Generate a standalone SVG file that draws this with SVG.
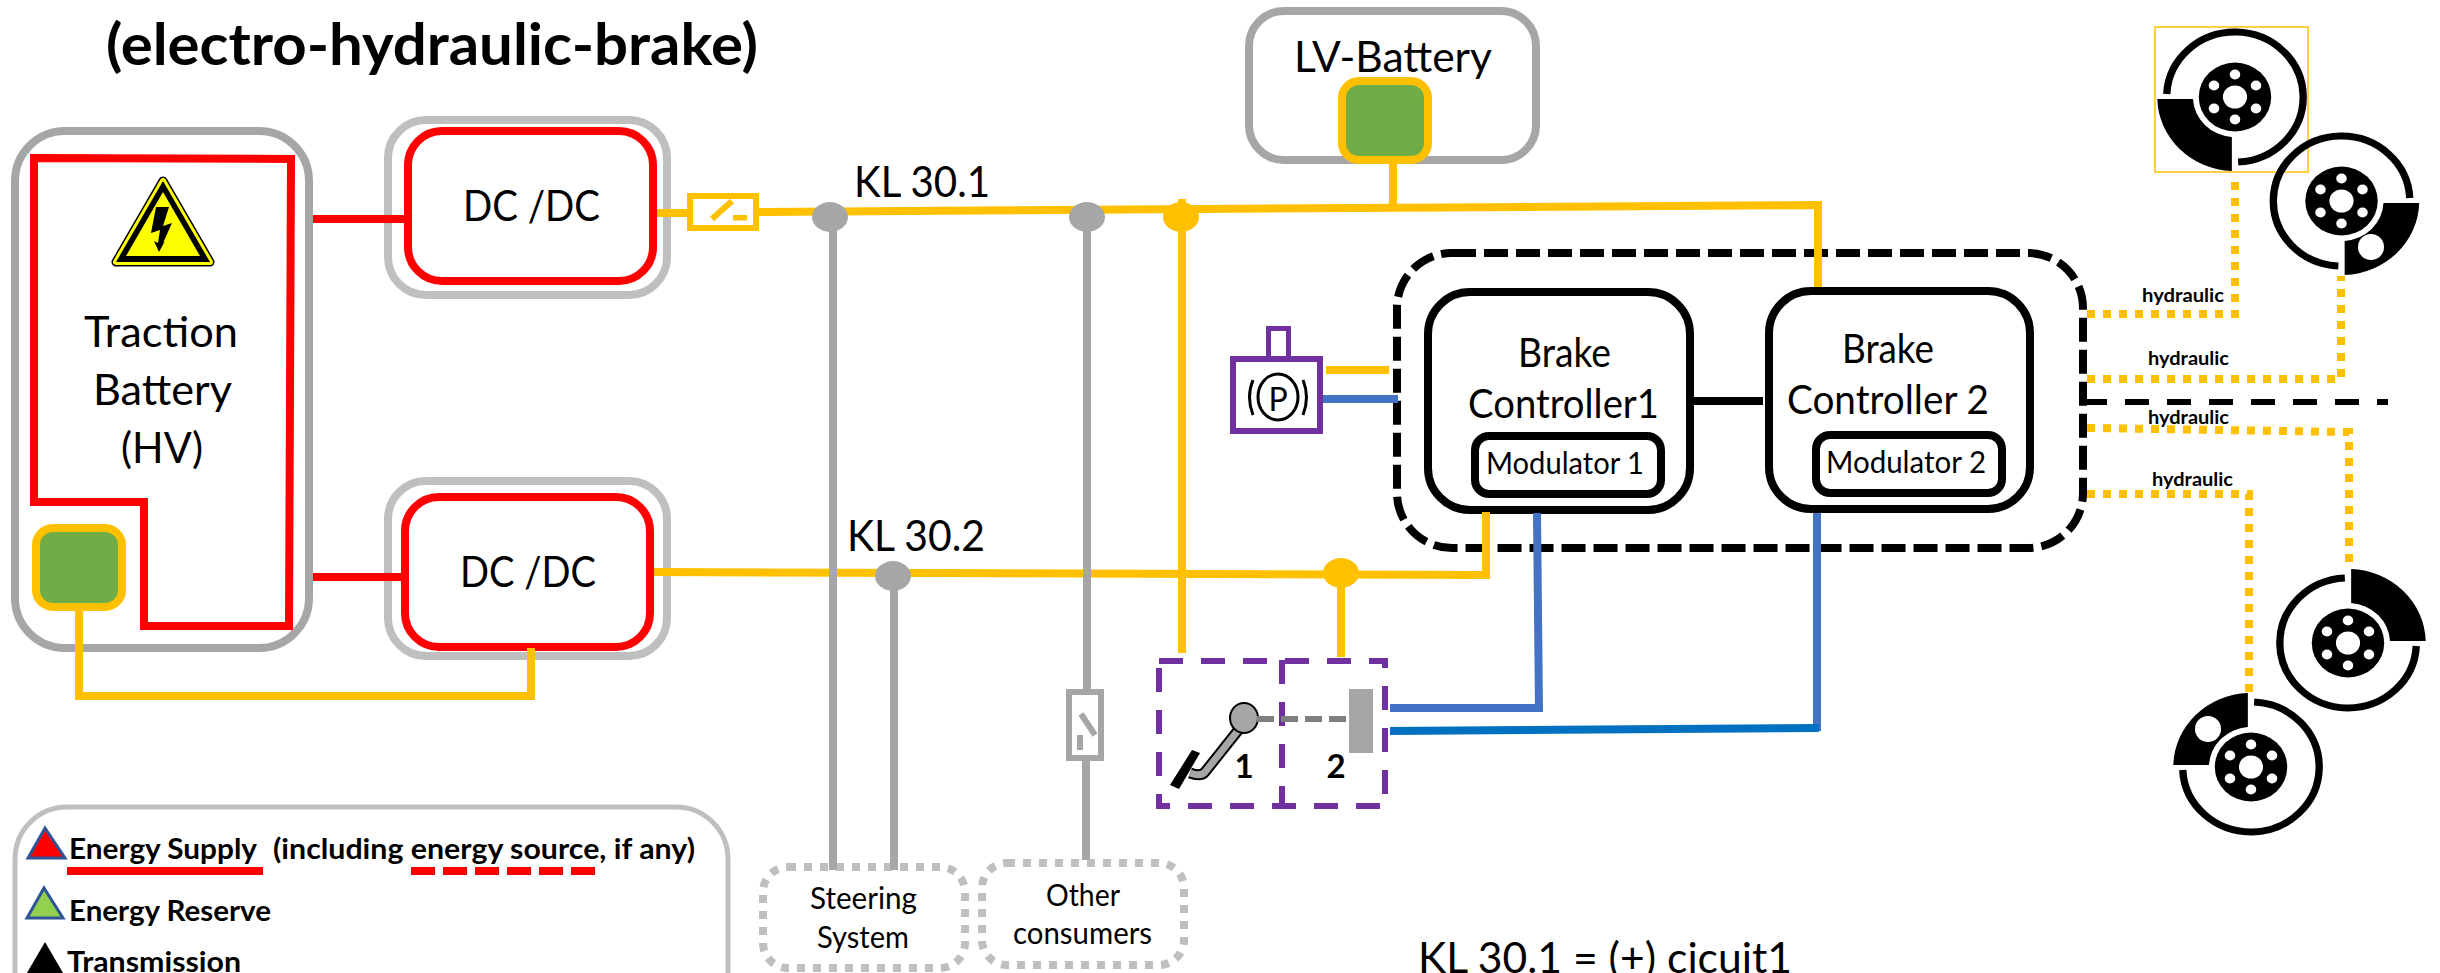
<svg xmlns="http://www.w3.org/2000/svg" xmlns:xlink="http://www.w3.org/1999/xlink" width="2440" height="973" viewBox="0 0 2440 973">
<style>
text{font-family:Lato,"Liberation Sans",sans-serif;fill:#000}
.t40{font-size:43px}.t37{font-size:40px}.t28{font-size:30px}
.b{font-weight:700}
.title{font-size:57px;font-weight:700}
.leg{font-size:28px;font-weight:700}
.hy{font-size:19px;font-weight:700}
.num{font-size:33px;font-weight:700}
.gb{fill:#fff;stroke:#A6A6A6;stroke-width:8}
.lg{fill:#fff;stroke:#BFBFBF;stroke-width:8}
.rd{fill:#fff;stroke:#F00;stroke-width:8}
.bk{fill:#fff;stroke:#000;stroke-width:8}
.bat{fill:#70AD47;stroke:#FFC000;stroke-width:8}
.dot{fill:#fff;stroke:#BFBFBF;stroke-width:8;stroke-dasharray:8 8}
.w{fill:none;stroke-width:8}
.y{stroke:#FFC000}.g{stroke:#A6A6A6}.r{stroke:#F00}.bl{stroke:#4472C4}.bl2{stroke:#0070C0}
.hyd{fill:none;stroke:#FFC000;stroke-width:8;stroke-dasharray:8 8}
.pu{fill:none;stroke:#7030A0;stroke-width:6}
.pd{fill:none;stroke:#7030A0;stroke-width:6;stroke-dasharray:24 18}
</style>
<defs>
<g id="disc">
<path d="M-65 -3A65 65 0 1 1 3 65" fill="none" stroke="#000" stroke-width="7"/>
<path d="M-74 2L-40 2A40 40 0 0 0 -3 40L-3 74A74 74 0 0 1 -74 2Z" fill="#000"/>
<circle r="34.500" fill="#000"/>
<circle r="11.500" fill="#fff"/>
<g fill="#fff">
<ellipse cy="-22.500" rx="5" ry="5"/><ellipse cy="22.500" rx="5" ry="5"/>
<ellipse cx="-20" cy="-11.500" rx="5" ry="5"/><ellipse cx="20" cy="-11.500" rx="5" ry="5"/>
<ellipse cx="-20" cy="11.500" rx="5" ry="5"/><ellipse cx="20" cy="11.500" rx="5" ry="5"/>
</g>
</g>
</defs>
<rect width="2440" height="973" fill="#fff"/>
<text id="title" class="title" x="106" y="65" textLength="652" lengthAdjust="spacingAndGlyphs">(electro-hydraulic-brake)</text>

<g id="traction-battery">
<rect class="gb" x="15" y="131" width="294" height="517" rx="50"/>
<path d="M34 158L291 159L289 626L144 626L144 502L34 502Z" fill="none" stroke="#F00" stroke-width="8"/>
<path d="M163 181L116 262H210Z" fill="#000" stroke="#000" stroke-width="9" stroke-linejoin="round"/>
<path d="M163 181L116 262H210Z" fill="#FF0" stroke="#FF0" stroke-width="6" stroke-linejoin="round"/>
<path d="M163 181L116 262H210Z" fill="#000"/>
<path d="M163 192L126 256H200Z" fill="#FF0"/>
<path d="M156 207L169 207L163 226L172 223L163 243L165 241L159 252L154 241L158 243L160 230L151 233Z" fill="#000"/>
<text class="t40" x="84" y="347" textLength="154" lengthAdjust="spacingAndGlyphs">Traction</text>
<text class="t40" x="93" y="405" textLength="139" lengthAdjust="spacingAndGlyphs">Battery</text>
<text class="t40" x="121" y="463" textLength="82" lengthAdjust="spacingAndGlyphs">(HV)</text>
<rect class="bat" x="36" y="528" width="86" height="79" rx="17"/>
</g>
<g id="dcdc-1">
<rect class="lg" x="388" y="120" width="279" height="175" rx="38"/>
<rect class="rd" x="408" y="131" width="245" height="150" rx="34"/>
<text class="t40" x="463" y="221" textLength="137" lengthAdjust="spacingAndGlyphs">DC /DC</text>
</g>
<g id="dcdc-2">
<rect class="lg" x="388" y="481" width="279" height="175" rx="38"/>
<rect class="rd" x="405" y="497" width="245" height="150" rx="34"/>
<text class="t40" x="460" y="587" textLength="136" lengthAdjust="spacingAndGlyphs">DC /DC</text>
</g>
<g id="fuse-switch">
<rect x="690" y="196" width="66" height="32" fill="#fff" stroke="#FFC000" stroke-width="6"/>
<path d="M712 219L732 201" stroke="#FFC000" stroke-width="6" fill="none"/>
<rect x="733" y="215" width="14" height="5.500" fill="#FFC000"/>
</g>
<g id="lv-battery">
<rect class="gb" x="1249" y="11" width="287" height="149" rx="35"/>
<text class="t40" x="1294" y="72" textLength="198" lengthAdjust="spacingAndGlyphs">LV-Battery</text>
<rect class="bat" x="1342" y="81" width="86" height="79" rx="17"/>
</g>
<g id="controller-domain">
<rect x="1397" y="253" width="686" height="295" rx="55" fill="none" stroke="#000" stroke-width="8" stroke-dasharray="24 8"/>
</g>
<g id="brake-controller-1">
<rect class="bk" x="1428" y="292" width="262" height="218" rx="42"/>
<text class="t37" x="1518" y="367" textLength="93" lengthAdjust="spacingAndGlyphs">Brake</text>
<text class="t37" x="1468" y="418" textLength="191" lengthAdjust="spacingAndGlyphs">Controller1</text>
<rect class="bk" x="1475" y="436" width="186" height="58" rx="14"/>
<text class="t28" x="1486" y="474" textLength="158" lengthAdjust="spacingAndGlyphs">Modulator 1</text>
</g>
<g id="brake-controller-2">
<rect class="bk" x="1769" y="291" width="261" height="218" rx="42"/>
<text class="t37" x="1842" y="363" textLength="92" lengthAdjust="spacingAndGlyphs">Brake</text>
<text class="t37" x="1787" y="414" textLength="202" lengthAdjust="spacingAndGlyphs">Controller 2</text>
<rect class="bk" x="1816" y="435" width="186" height="58" rx="14"/>
<text class="t28" x="1826" y="473" textLength="160" lengthAdjust="spacingAndGlyphs">Modulator 2</text>
</g>
<g id="parking-switch">
<rect x="1268.500" y="328.500" width="20" height="33" fill="#fff" stroke="#7030A0" stroke-width="5"/>
<rect x="1233" y="359" width="87" height="72" fill="#fff" stroke="#7030A0" stroke-width="6"/>
<ellipse cx="1278" cy="397" rx="20" ry="23" fill="none" stroke="#000" stroke-width="3"/>
<path d="M1253 380Q1246 397 1253 415M1303 380Q1310 397 1303 415" fill="none" stroke="#000" stroke-width="3"/>
<text x="1278" y="411" text-anchor="middle" font-size="32">P</text>
</g>
<g id="pedal-sensor">
<path class="pd" d="M1159 661H1385"/>
<path class="pd" d="M1159 668V806"/>
<path class="pd" d="M1156 806H1385" stroke-dashoffset="10"/>
<path class="pd" d="M1282 660V806"/>
<path class="pd" d="M1385 658V806" stroke-dashoffset="14"/>
<path d="M1192 750L1200 753L1179 789L1170 785Z" fill="#000"/>
<path d="M1240 728L1205 772Q1201 777 1190 773" fill="none" stroke="#000" stroke-width="11"/>
<path d="M1240 728L1205 772Q1201 777 1190 773" fill="none" stroke="#A6A6A6" stroke-width="7"/>
<ellipse cx="1244" cy="718" rx="14" ry="15" fill="#A6A6A6" stroke="#000" stroke-width="2"/>
<path d="M1257 719H1346" fill="none" stroke="#7F7F7F" stroke-width="6" stroke-dasharray="17 7"/>
<rect x="1349" y="689" width="24" height="64" fill="#A6A6A6"/>
<text class="num" x="1244" y="778" text-anchor="middle">1</text>
<text class="num" x="1336" y="778" text-anchor="middle">2</text>
</g>
<g id="steering-system">
<rect class="dot" x="763" y="867" width="202" height="101" rx="25"/>
<text class="t28" x="810" y="909" textLength="107" lengthAdjust="spacingAndGlyphs">Steering</text>
<text class="t28" x="817" y="948" textLength="92" lengthAdjust="spacingAndGlyphs">System</text>
</g>
<g id="other-consumers">
<rect class="dot" x="982" y="863" width="202" height="102" rx="25"/>
<text class="t28" x="1046" y="906" textLength="74" lengthAdjust="spacingAndGlyphs">Other</text>
<text class="t28" x="1013" y="944" textLength="139" lengthAdjust="spacingAndGlyphs">consumers</text>
</g>
<g id="consumer-switch">
<rect x="1069" y="692" width="32" height="66" fill="#fff" stroke="#A6A6A6" stroke-width="6"/>
<path d="M1081 714L1095 735M1080 735V750" fill="none" stroke="#A6A6A6" stroke-width="6"/>
</g>
<g id="legend">
<rect x="15" y="807" width="713" height="260" rx="52" fill="#fff" stroke="#BFBFBF" stroke-width="5"/>
<path d="M45 828L65 858H28Z" fill="#F00" stroke="#2F5597" stroke-width="3"/>
<path d="M44 888L63 918H27Z" fill="#92D050" stroke="#2F5597" stroke-width="3"/>
<path d="M45 942L66 978H24Z" fill="#000"/>
<text class="leg" x="69" y="859" textLength="188" lengthAdjust="spacingAndGlyphs">Energy Supply</text>
<text class="leg" x="273" y="859" textLength="422" lengthAdjust="spacingAndGlyphs">(including energy source, if any)</text>
<text class="leg" x="69" y="921" textLength="202" lengthAdjust="spacingAndGlyphs">Energy Reserve</text>
<text class="leg" x="67" y="972" textLength="174" lengthAdjust="spacingAndGlyphs">Transmission</text>
<path d="M67 871H263" stroke="#F00" stroke-width="8" fill="none"/>
<path d="M411 871H595" stroke="#F00" stroke-width="8" fill="none" stroke-dasharray="24 8"/>
</g>
<text id="kl-note" class="t40" x="1418" y="973" textLength="374" lengthAdjust="spacingAndGlyphs">KL 30.1 = (+) cicuit1</text>

<g id="disc-1">
<rect x="2155" y="27" width="153" height="145" fill="none" stroke="#FFC000" stroke-width="1.500"/>
<use href="#disc" xlink:href="#disc" transform="translate(2235 97) scale(1.05 1)"/>
</g>
<g id="disc-2">
<use href="#disc" xlink:href="#disc" transform="translate(2341.500 201) scale(-1.05 1)"/>
<circle cx="2371" cy="247" r="13" fill="#fff"/>
</g>
<g id="disc-3">
<use href="#disc" xlink:href="#disc" transform="translate(2348 643) rotate(180) scale(1.05 1)"/>
</g>
<g id="disc-4">
<use href="#disc" xlink:href="#disc" transform="translate(2251 767) scale(1.05 -1)"/>
<circle cx="2208" cy="729" r="13" fill="#fff"/>
</g>

<g id="connectors">
<path class="w r" d="M313 219H404"/>
<path class="w r" d="M313 577H401"/>
<path class="w y" d="M79 611V696H531V648"/>
<path class="w y" d="M657 213H687"/>
<path class="w y" d="M759 212L1818 205V287"/>
<path class="w y" d="M1393 164V207"/>
<path class="w y" d="M654 572L1483 575"/>
<path class="w y" d="M1486 512V579"/>
<path class="w y" d="M1182 199V653"/>
<path class="w y" d="M1341 573V657"/>
<path class="w g" d="M833 217V870"/>
<path class="w g" d="M1087 217V689"/>
<path class="w g" d="M1086 761V860"/>
<path class="w g" d="M894 576V870"/>
<ellipse cx="830" cy="217" rx="18" ry="15" fill="#A6A6A6"/>
<ellipse cx="1087" cy="217" rx="18" ry="15" fill="#A6A6A6"/>
<ellipse cx="893" cy="576" rx="18" ry="15" fill="#A6A6A6"/>
<ellipse cx="1181" cy="217" rx="18" ry="15" fill="#FFC000"/>
<ellipse cx="1341" cy="573" rx="18" ry="15" fill="#FFC000"/>
<path class="w y" d="M1326 370H1389"/>
<path class="w bl" d="M1323 399H1398"/>
<path class="w bl" d="M1537 513L1539 712"/>
<path class="w bl" d="M1390 708H1543"/>
<path class="w bl" d="M1817 513V731"/>
<path class="w bl2" d="M1390 731L1819 728"/>
<path d="M1694 401H1763" fill="none" stroke="#000" stroke-width="8"/>
<path d="M2083 402H2388" fill="none" stroke="#000" stroke-width="6" stroke-dasharray="24 18"/>
<path class="hyd" d="M2087 314H2235V182"/>
<path class="hyd" d="M2087 379H2341V276"/>
<path class="hyd" d="M2087 428L2349 432V565"/>
<path class="hyd" d="M2087 494H2249V692"/>
</g>
<g id="connector-labels">
<text class="t40" x="854" y="197" textLength="136" lengthAdjust="spacingAndGlyphs">KL 30.1</text>
<text class="t40" x="847" y="551" textLength="138" lengthAdjust="spacingAndGlyphs">KL 30.2</text>
<text class="hy" x="2142" y="302" textLength="82" lengthAdjust="spacingAndGlyphs">hydraulic</text>
<text class="hy" x="2148" y="365" textLength="81" lengthAdjust="spacingAndGlyphs">hydraulic</text>
<text class="hy" x="2148" y="424" textLength="81" lengthAdjust="spacingAndGlyphs">hydraulic</text>
<text class="hy" x="2152" y="486" textLength="81" lengthAdjust="spacingAndGlyphs">hydraulic</text>
</g>
</svg>
